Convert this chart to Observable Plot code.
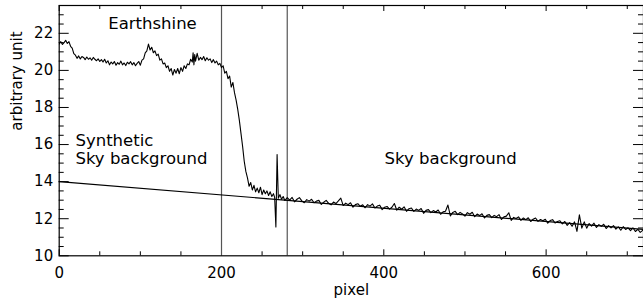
<!DOCTYPE html>
<html>
<head>
<meta charset="utf-8">
<script src="https://cdn.jsdelivr.net/npm/d3@7"></script>
<script src="https://cdn.jsdelivr.net/npm/@observablehq/plot@0.6"></script>
<style>
  html, body { margin: 0; padding: 0; background: #fff; }
  #chart svg { display: block; }
</style>
</head>
<body>
<div id="chart"></div>
<script>
// ---- data ----
const earthPixel = [0,2,4,6,8,10,12,14,16,18,20,22,24,26,28,30,32,34,36,38,40,42,44,46,48,50,52,54,56,58,60,62,64,66,68,70,72,74,76,78,80,82,84,86,88,90,92,94,96,98,100,102,104,106,108,110,112,114,116,118,120,122,124,126,128,130,132,134,136,138,140,142,144,146,148,150,152,154,156,158,160,162,164,165,166,167,168,170,172,174,176,178,180,182,184,186,188,190,192,194,196,198,200];
const earthSignal = [21.42,21.55,21.40,21.50,21.62,21.45,21.55,21.30,21.20,20.90,20.82,20.65,20.78,20.62,20.75,20.70,20.58,20.72,20.60,20.68,20.55,20.70,20.60,20.52,20.62,20.48,20.58,20.45,20.60,20.40,20.52,20.30,20.45,20.35,20.48,20.28,20.42,20.33,20.50,20.30,20.40,20.26,20.44,20.35,20.47,20.30,20.42,20.25,20.38,20.48,20.28,20.55,20.62,20.95,21.05,21.42,21.10,21.25,20.95,21.05,20.80,20.88,20.55,20.62,20.35,20.40,20.15,20.25,19.95,20.10,19.75,20.05,19.85,20.10,19.82,20.15,19.95,20.25,20.10,20.35,20.30,20.60,20.45,20.95,20.30,20.85,20.50,20.92,20.55,20.70,20.58,20.75,20.52,20.68,20.55,20.62,20.42,20.58,20.40,20.50,20.30,20.38,20.15];

const dropPixel = [202,204,206,208,210,212,214,216,218,220,222,224,226,228,230,232,234,236,238,240,242,244,246,248,250,252,254,256,258,260,262,264,265.5,267,268.5,270,272,274,276,278];
const dropSignal = [20.25,19.85,19.95,19.55,19.70,19.10,19.35,18.80,18.40,17.90,17.30,16.60,15.90,15.10,14.55,14.20,13.75,13.95,13.55,13.80,13.45,13.65,13.40,13.70,13.30,13.55,13.35,13.50,13.25,13.45,13.20,13.35,13.15,11.55,15.46,13.10,13.30,13.05,13.20,12.98];

const skyPixel = [281,284,287,290,293,296,299,302,305,308,311,314,317,320,323,326,329,332,335,338,341,344,347,350,353,356,359,362,365,368,371,374,377,380,383,386,389,392,395,398,401,404,407,410,413,416,419,422,425,428,431,434,437,440,443,446,449,452,455,458,461,464,467,470,473,476,479,482,485,488,491,494,497,500,503,506,509,512,515,518,521,524,527,530,533,536,539,542,545,548,551,554,557,560,563,566,569,572,575,578,581,584,587,590,593,596,599,602,605,608,611,614,617,620,623,626,629,632,635,638,641,644,647,650,653,656,659,662,665,668,671,674,677,680,683,686,689,692,695,698,701,704,707,710,713,716,719];
const skySignal = [13.14,13.00,13.15,12.91,13.05,13.14,12.96,12.86,13.03,12.95,13.05,12.86,12.95,12.99,12.77,12.89,12.99,12.83,12.75,12.90,12.82,12.96,13.11,12.71,12.84,12.76,12.86,12.62,12.76,12.81,12.67,12.75,12.59,12.76,12.68,12.80,12.58,12.68,12.73,12.49,12.62,12.66,12.52,12.62,12.82,12.46,12.62,12.51,12.64,12.40,12.54,12.58,12.40,12.52,12.45,12.55,12.29,12.45,12.49,12.33,12.44,12.36,12.47,12.24,12.37,12.40,12.74,12.15,12.34,12.40,12.22,12.34,12.26,12.14,12.33,12.24,12.35,12.11,12.25,12.17,12.27,12.04,12.18,12.22,12.06,12.18,12.11,12.22,11.96,12.10,12.14,12.32,11.91,12.07,12.01,12.10,11.91,12.04,11.95,12.05,11.85,11.97,12.04,11.86,11.96,11.89,11.97,11.76,11.90,11.95,11.77,11.85,11.89,11.72,11.85,11.64,11.79,11.59,11.83,11.32,12.21,11.49,11.83,11.49,11.74,11.60,11.76,11.53,11.68,11.59,11.70,11.47,11.63,11.51,11.63,11.44,11.56,11.38,11.57,11.42,11.51,11.36,11.51,11.31,11.43,11.26,11.37];

// synthetic sky background (straight line) endpoints
const synthPixel = [0, 720];
const synthSignal = [14.0, 11.42];

// region boundaries
const boundaries = [200, 281];

// axis ticks
const xMajor = [0, 200, 400, 600];
const xMinor = [50, 100, 150, 250, 300, 350, 450, 500, 550, 650, 700];
const yMajor = [10, 12, 14, 16, 18, 20, 22];
const yMinor = [10.5, 11, 11.5, 12.5, 13, 13.5, 14.5, 15, 15.5, 16.5, 17, 17.5, 18.5, 19, 19.5, 20.5, 21, 21.5, 22.5, 23];

// annotations
const titleText = ["Earthshine"];
const titlePixel = [115];
const titleValue = [22.5];
const noteText = ["Synthetic", "Sky background", "Sky background"];
const notePixel = [20, 20, 401];
const noteValue = [16.23, 15.24, 15.24];

// ---- build tables ----
const profile = [
  ...earthPixel.map((x, i) => ({x, y: earthSignal[i]})),
  ...dropPixel.map((x, i) => ({x, y: dropSignal[i]})),
  ...skyPixel.map((x, i) => ({x, y: skySignal[i]}))
];
const synth = synthPixel.map((x, i) => ({x, y: synthSignal[i]}));
const titles = titleText.map((t, i) => ({t, x: titlePixel[i], y: titleValue[i]}));
const notes = noteText.map((t, i) => ({t, x: notePixel[i], y: noteValue[i]}));

const W = 643, H = 305;
const mL = 58.7, mR = 0, mT = 5, mB = 49.7;
const plotW = W - mL - mR, plotH = H - mT - mB;
const font = "DejaVu Sans, sans-serif";

const chart = Plot.plot({
  width: W,
  height: H,
  marginLeft: mL,
  marginRight: mR,
  marginTop: mT,
  marginBottom: mB,
  style: {fontFamily: font, fontSize: "15px", color: "#000", background: "#fff", overflow: "visible"},
  x: {domain: [0, 720]},
  y: {domain: [10, 23.5]},
  marks: [
    // tick labels
    Plot.axisX({ticks: xMajor, tickSize: 0, tickPadding: 12, tickFormat: d3.format("d"), label: null, fontSize: 15}),
    Plot.axisY({ticks: yMajor, tickSize: 0, tickPadding: 6, tickFormat: d3.format("d"), label: null, fontSize: 15}),
    // inward ticks: bottom/top
    Plot.ruleX(xMajor, {x: d => d, insetTop: plotH - 6, stroke: "#000"}),
    Plot.ruleX(xMajor, {x: d => d, insetBottom: plotH - 6, stroke: "#000"}),
    Plot.ruleX(xMinor, {x: d => d, insetTop: plotH - 4, stroke: "#000"}),
    Plot.ruleX(xMinor, {x: d => d, insetBottom: plotH - 4, stroke: "#000"}),
    // inward ticks: left/right
    Plot.ruleY(yMajor, {y: d => d, insetRight: plotW - 10, stroke: "#000"}),
    Plot.ruleY(yMajor, {y: d => d, insetLeft: plotW - 10, stroke: "#000"}),
    Plot.ruleY(yMinor, {y: d => d, insetRight: plotW - 5, stroke: "#000"}),
    Plot.ruleY(yMinor, {y: d => d, insetLeft: plotW - 5, stroke: "#000"}),
    // boundaries
    Plot.ruleX(boundaries, {x: d => d, stroke: "#555", strokeWidth: 1.2}),
    // synthetic background
    Plot.line(synth, {x: "x", y: "y", stroke: "#000", strokeWidth: 1.2}),
    // measured profile
    Plot.line(profile, {x: "x", y: "y", stroke: "#000", strokeWidth: 1.1, clip: true}),
    // annotations
    Plot.text(titles, {x: "x", y: "y", text: "t", textAnchor: "middle", fontSize: 16.5, fill: "#000"}),
    Plot.text(notes, {x: "x", y: "y", text: "t", textAnchor: "start", fontSize: 16.5, fill: "#000"}),
    // axis titles
    Plot.text(["pixel"], {frameAnchor: "bottom", dy: 39, text: d => d, fontSize: 15}),
    Plot.text(["arbitrary unit"], {frameAnchor: "left", dx: -42, rotate: -90, text: d => d, fontSize: 15}),
    Plot.frame({stroke: "#000", strokeWidth: 1.2})
  ]
});
document.getElementById("chart").appendChild(chart);
</script>
</body>
</html>
